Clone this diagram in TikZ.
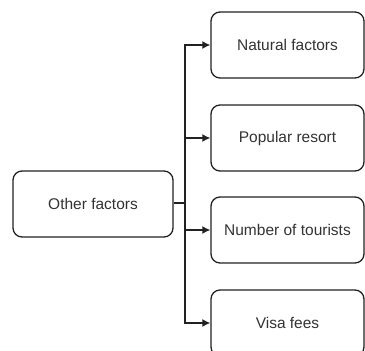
\documentclass[tikz,border=0pt]{standalone}
\usepackage{fontspec}
\setmainfont{Liberation Sans}
\usetikzlibrary{arrows.meta}
\definecolor{txtgray}{HTML}{333333}
\definecolor{linegray}{HTML}{222222}
\tikzset{
  box/.style={draw=linegray, line width=1.3pt, rounded corners=9pt, fill=white,
    minimum width=#1, inner sep=0pt, font=\fontsize{15.5}{18}\selectfont, text=txtgray},
  conn/.style={draw=linegray, line width=1.4pt},
  arr/.style={conn, -{Latex[length=8pt,width=8pt]}}
}
\begin{document}
\begin{tikzpicture}[x=1pt,y=-1pt]
\useasboundingbox (0,0) rectangle (365,351);
\clip (0,0) rectangle (365,351);
\fill[white] (0,0) rectangle (365,351);
\node[box=160pt, minimum height=66pt] (other) at (93,204) {Other factors};
\node[box=153pt, minimum height=66pt] (nat) at (287.5,45) {Natural factors};
\node[box=153pt, minimum height=66pt] (pop) at (287.5,138) {Popular resort};
\node[box=153pt, minimum height=66pt] (num) at (287.5,230) {Number of tourists};
\node[box=153pt, minimum height=66pt] (visa) at (287.5,323) {Visa fees};
\coordinate (j) at (185,203);
\draw[conn] (other.east |- j) -- (j);
\draw[arr] (j) |- (nat.west);
\draw[arr] (j) |- (pop.west);
\draw[arr] (j) |- (num.west);
\draw[arr] (j) |- (visa.west);
\end{tikzpicture}
\end{document}
